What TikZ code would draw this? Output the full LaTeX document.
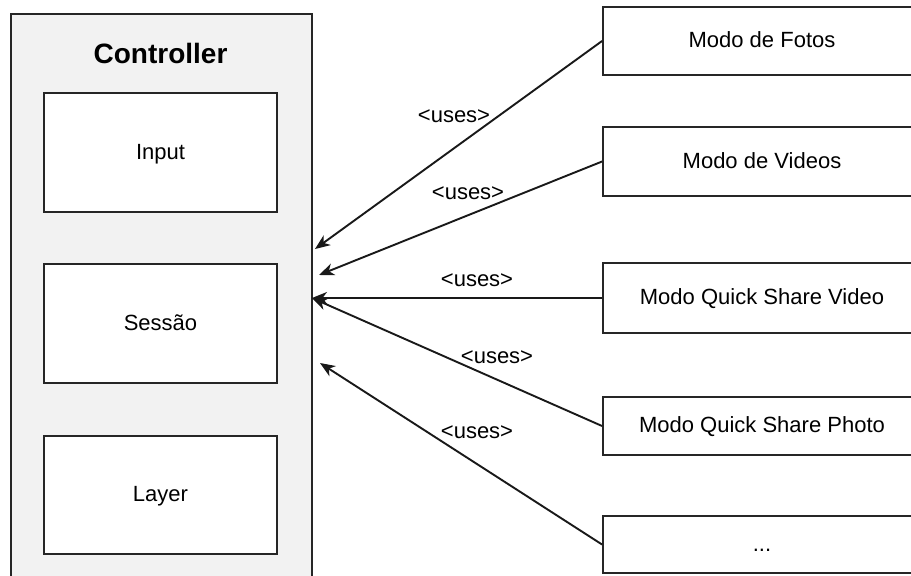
\documentclass[tikz,border=0pt]{standalone}
\usepackage{fontspec}
\setmainfont{Liberation Sans}
\usepackage{tikz}
\usetikzlibrary{positioning,arrows.meta}

\begin{document}
\begin{tikzpicture}[x=1pt,y=-1pt,
  box/.style={draw=black!85, line width=1.9pt, fill=white, inner sep=0pt, text height=15.8pt, text depth=2pt, font=\fontsize{22}{26}\selectfont},
  modebox/.style={box, minimum width=318pt},
  uses/.style={-{Stealth[length=15pt,width=12pt,inset=4.5pt]}, line width=1.9pt, draw=black!90},
  lbl/.style={anchor=base, font=\fontsize{22}{26}\selectfont}]
\useasboundingbox (0,0) rectangle (911,576);

% controller and its parts
\node[draw=black!85, line width=1.9pt, fill=black!5, minimum width=301pt, minimum height=570pt, anchor=north west] at (10,13)(ctrl){};
\node[anchor=base, font=\bfseries\fontsize{28}{32}\selectfont] at (160.5,63)(title){Controller};
\node[box, minimum width=233pt, minimum height=119pt] at (160.5,152.5)(input){Input};
\node[box, minimum width=233pt, minimum height=119pt, below=50pt of input](sessao){Sessão};
\node[box, minimum width=233pt, minimum height=118pt, below=51pt of sessao](layer){Layer};

% modes
\node[modebox, minimum height=68pt] at (762,41)(fotos){Modo de Fotos};
\node[modebox, minimum height=69pt] at (762,161.5)(videos){Modo de Videos};
\node[modebox, minimum height=70pt] at (762,298)(qsvideo){Modo Quick Share Video};
\node[modebox, minimum height=58pt] at (762,426)(qsphoto){Modo Quick Share Photo};
\node[modebox, minimum height=57pt] at (762,544.5)(more){...};

\coordinate (tipA) at (315,249);
\coordinate (tipB) at (319,275);
\coordinate (tipC) at (312,298);
\coordinate (tipD) at (320,363);

\draw[uses] (fotos.west) -- (tipA);
\draw[uses] (videos.west) -- (tipB);
\draw[uses] (qsvideo.west) -- (tipC);
\draw[uses] (qsphoto.west) -- (tipC);
\draw[uses] (more.west) -- (tipD);

\node[lbl] at (454,122)(usesA){<uses>};
\node[lbl] at (468,199)(usesB){<uses>};
\node[lbl] at (477,286)(usesC){<uses>};
\node[lbl] at (497,363)(usesD){<uses>};
\node[lbl] at (477,438)(usesE){<uses>};
\end{tikzpicture}
\end{document}
